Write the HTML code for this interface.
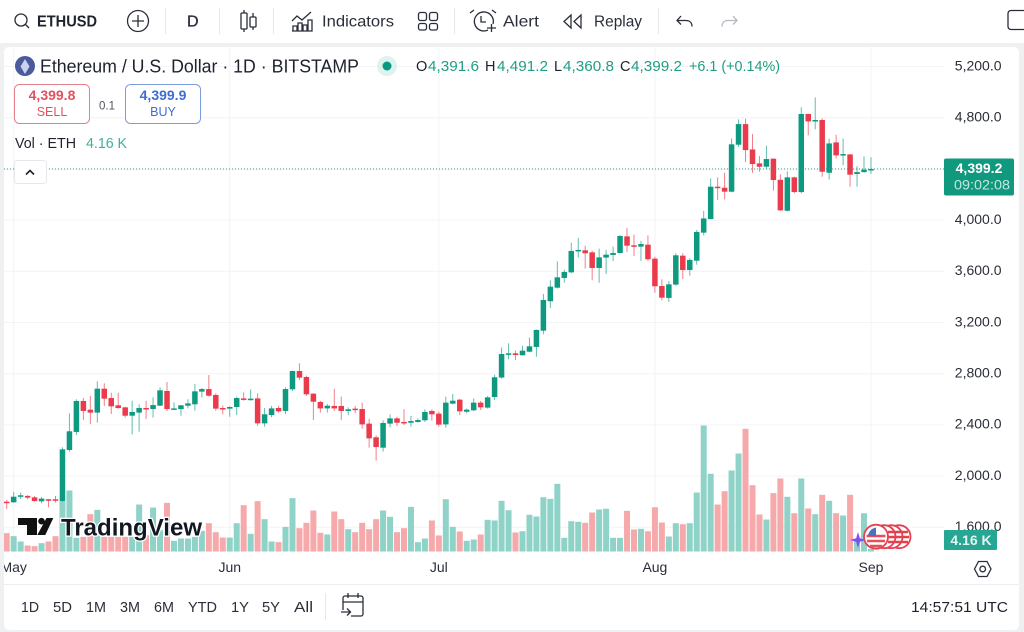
<!DOCTYPE html>
<html lang="en">
<head>
<meta charset="utf-8">
<title>ETHUSD chart</title>
<style>
html,body{margin:0;padding:0;background:#eef0f2;width:1024px;height:632px;overflow:hidden}
svg{display:block}
text{font-family:"Liberation Sans",sans-serif;fill:#1e222d}
.tb{font-size:16px;fill:#2a2e39}
.icon{fill:none;stroke:#2a2e39;stroke-width:1.3}
.g{fill:#1f9e85}
.ax{font-size:14px;fill:#2a2e39}
.rng{font-size:14.5px;fill:#2a2e39}
</style>
</head>
<body>
<svg id="chart" xmlns="http://www.w3.org/2000/svg" width="1024" height="632" viewBox="0 0 1024 632">
  <rect width="1024" height="632" fill="#eef0f2"/>
  <rect width="1024" height="43" fill="#ffffff"/>
  <rect x="4" y="47" width="1015" height="583" rx="5" fill="#ffffff"/>

  <!-- toolbar -->
  <g>
    <circle cx="21" cy="20" r="6" class="icon" stroke-width="1.6"/>
    <line x1="25.5" y1="24.5" x2="29" y2="28" class="icon"/>
    <text x="37" y="26.5" font-size="16" font-weight="bold" textLength="60" lengthAdjust="spacingAndGlyphs">ETHUSD</text>
  </g>
  <g>
    <circle cx="138" cy="21" r="10.5" class="icon"/>
    <path d="M132 21h12M138 15v12" class="icon"/>
  </g>
  <g fill="#e6e7ea">
    <rect x="165" y="8" width="1" height="26"/><rect x="219" y="8" width="1" height="26"/>
    <rect x="273" y="8" width="1" height="26"/><rect x="454" y="8" width="1" height="26"/>
    <rect x="658" y="8" width="1" height="26"/>
  </g>
  <text x="187" y="26.5" class="tb" style="stroke:#2a2e39;stroke-width:0.3px">D</text>
  <g class="icon">
    <path d="M244 10v3M244 29v3M253 13v4M253 27v3"/>
    <rect x="241" y="13" width="6" height="16" rx="1"/><rect x="250" y="17" width="6" height="10" rx="1"/>
  </g>
  <g>
    <path class="icon" d="M292 21l5-5 5 4 9-8M293 31v-5h4v5zM298 31v-8h4v8zM303 31v-6h4v6zM308 31v-11h4v11zM292 31h20"/>
    <text x="322" y="26.5" class="tb" textLength="72" lengthAdjust="spacingAndGlyphs">Indicators</text>
  </g>
  <g class="icon">
    <rect x="418.500" y="12.500" width="8" height="8" rx="2"/><rect x="429.500" y="12.500" width="8" height="8" rx="2"/>
    <rect x="418.500" y="23.500" width="8" height="6.500" rx="2"/><rect x="429.500" y="23.500" width="8" height="6.500" rx="2"/>
  </g>
  <g>
    <path class="icon" d="M488 30a9.500 9.500 0 1 1 5-6M481 16v6h5M470 13l4-3M492 10l4 3M487 28h9M491.500 24v8"/>
    <text x="503" y="26.5" class="tb" textLength="36" lengthAdjust="spacingAndGlyphs">Alert</text>
  </g>
  <g>
    <path class="icon" d="M571 15l-7 6.500 7 6.500zM581 15l-7 6.500 7 6.500z"/>
    <text x="594" y="26.5" class="tb" textLength="48" lengthAdjust="spacingAndGlyphs">Replay</text>
  </g>
  <path class="icon" stroke-width="1.4" d="M681 16l-4 4.500 4 4M677 20.500h9c4 0 6 2.500 6 6"/>
  <path class="icon" style="stroke:#b5b8c0" d="M733 16l4 4.500-4 4M737 20.500h-9c-4 0-6 2.500-6 6"/>
  <rect x="1008" y="10.500" width="30" height="19" rx="3" class="icon"/>

  <!-- dynamic marks -->
  <g id="grid-layer"></g>
  <g id="vol-layer"></g>
  <g id="candle-layer"></g>
  <line x1="4" x2="944" y1="169" y2="169" stroke="#26a08a" stroke-width="1" stroke-dasharray="1 2"/>
  <g id="tick-layer"></g>

  <!-- legend -->
  <g>
    <circle cx="25" cy="66" r="10" fill="#4a5a9a"/>
    <path d="M25 59l4.500 7.500-4.500 7.500-4.500-7.500z" fill="#c9d2f2"/>
  </g>
  <text x="40" y="72.500" font-size="18" fill="#2a2e39" textLength="319" lengthAdjust="spacingAndGlyphs">Ethereum / U.S. Dollar · 1D · BITSTAMP</text>
  <circle cx="387" cy="66" r="10" fill="#dff3ee"/>
  <circle cx="387" cy="66" r="4.500" fill="#089981"/>
  <g font-size="14.500">
    <text x="416" y="71">O</text><text x="428" y="71" class="g" textLength="51" lengthAdjust="spacingAndGlyphs">4,391.6</text>
    <text x="485" y="71">H</text><text x="497" y="71" class="g" textLength="51" lengthAdjust="spacingAndGlyphs">4,491.2</text>
    <text x="554" y="71">L</text><text x="563" y="71" class="g" textLength="51" lengthAdjust="spacingAndGlyphs">4,360.8</text>
    <text x="620" y="71">C</text><text x="631" y="71" class="g" textLength="51" lengthAdjust="spacingAndGlyphs">4,399.2</text>
    <text x="689" y="71" class="g" textLength="91" lengthAdjust="spacingAndGlyphs">+6.1 (+0.14%)</text>
  </g>
  <g>
    <rect x="14.500" y="84.500" width="75" height="39" rx="5" fill="#fff" stroke="#e4808c"/>
    <text x="52" y="100" text-anchor="middle" font-size="14" font-weight="bold" style="fill:#e0525f">4,399.8</text>
    <text x="52" y="116" text-anchor="middle" font-size="12.500" style="fill:#e0525f">SELL</text>
  </g>
  <text x="107" y="109.500" text-anchor="middle" font-size="11.500" style="fill:#50535e">0.1</text>
  <g>
    <rect x="125.500" y="84.500" width="75" height="39" rx="5" fill="#fff" stroke="#7c9bd9"/>
    <text x="163" y="100" text-anchor="middle" font-size="14" font-weight="bold" style="fill:#3f6dd0">4,399.9</text>
    <text x="163" y="116" text-anchor="middle" font-size="12.500" style="fill:#3f6dd0">BUY</text>
  </g>
  <text x="15" y="148" font-size="14.500" fill="#2a2e39" textLength="61" lengthAdjust="spacingAndGlyphs">Vol · ETH</text>
  <text x="86" y="148" font-size="14.500" style="fill:#3fb09c" textLength="41" lengthAdjust="spacingAndGlyphs">4.16 K</text>
  <g>
    <rect x="14.500" y="160.500" width="32" height="23" rx="3" fill="#fff" stroke="#e6e7ea"/>
    <path d="M26 174.500l4-4 4 4" fill="none" stroke="#1e222d" stroke-width="1.600"/>
  </g>

  <!-- logo -->
  <g>
    <path d="M18 518h19v17h-10v-10h-9z" fill="#111"/>
    <circle cx="41.500" cy="521.200" r="3.300" fill="#111"/>
    <path d="M46.500 518h6.800l-8 17h-8z" fill="#111"/>
    <text x="61" y="535.500" font-size="24" font-weight="bold" style="fill:#131722;stroke:#fff;stroke-width:2.500px;paint-order:stroke" textLength="141" lengthAdjust="spacingAndGlyphs">TradingView</text>
  </g>

  <!-- event markers -->
  <g>
    <path d="M858 532l1.800 6.200 6.200 1.800-6.200 1.800-1.800 6.200-1.800-6.200-6.200-1.800 6.200-1.800z" fill="#7b4ff0"/>
    <path d="M869 527a12.500 12.500 0 0 0 0 19" fill="none" stroke="#7b4ff0" stroke-width="1.400"/>
    <g fill="#fff" stroke="#e5404f" stroke-width="1.800">
      <circle cx="899" cy="536.700" r="11.500"/><circle cx="891" cy="536.700" r="11.500"/><circle cx="884" cy="536.700" r="11.500"/>
    </g>
    <g stroke="#e5404f" stroke-width="2.400">
      <path d="M888 532h20M888 537h21M888 542h20"/>
    </g>
    <circle cx="876" cy="536.700" r="12" fill="#fff" stroke="#e5404f" stroke-width="1.800"/>
    <path d="M866.500 536h19M867 541h18M870 546h12" stroke="#e5505c" stroke-width="2.600" fill="none"/>
    <path d="M868 536a9.500 9.500 0 0 1 8-8.500v8.500z" fill="#4a72c4"/>
  </g>

  <!-- price labels -->
  <g>
    <rect x="944" y="158.500" width="70" height="37" rx="2" fill="#10997f"/>
    <text x="979" y="173" text-anchor="middle" font-size="14" font-weight="bold" style="fill:#fff">4,399.2</text>
    <text x="982" y="189.500" text-anchor="middle" font-size="14" style="fill:#c3e7df" textLength="56" lengthAdjust="spacingAndGlyphs">09:02:08</text>
  </g>
  <g>
    <rect x="944" y="530" width="53" height="20" rx="1" fill="#26a693"/>
    <text x="971" y="545" text-anchor="middle" font-size="14" font-weight="bold" style="fill:#e4f5f1">4.16 K</text>
  </g>
  <path d="M974.500 569l4-7.500h8.500l4 7.500-4 7.500h-8.500z" class="icon"/>
  <circle cx="982.700" cy="569" r="2.800" class="icon"/>

  <!-- bottom bar -->
  <rect x="4" y="584" width="1015" height="1" fill="#eceef0"/>
  <g class="rng">
    <text class="rng" x="21" y="612" textLength="18" lengthAdjust="spacingAndGlyphs">1D</text>
    <text class="rng" x="53" y="612" textLength="19" lengthAdjust="spacingAndGlyphs">5D</text>
    <text class="rng" x="86" y="612" textLength="20" lengthAdjust="spacingAndGlyphs">1M</text>
    <text class="rng" x="120" y="612" textLength="20" lengthAdjust="spacingAndGlyphs">3M</text>
    <text class="rng" x="154" y="612" textLength="20" lengthAdjust="spacingAndGlyphs">6M</text>
    <text class="rng" x="188" y="612" textLength="29" lengthAdjust="spacingAndGlyphs">YTD</text>
    <text class="rng" x="231" y="612" textLength="18" lengthAdjust="spacingAndGlyphs">1Y</text>
    <text class="rng" x="262" y="612" textLength="18" lengthAdjust="spacingAndGlyphs">5Y</text>
    <text class="rng" x="294" y="612" textLength="19" lengthAdjust="spacingAndGlyphs">All</text>
  </g>
  <rect x="325" y="593" width="1" height="27" fill="#e6e7ea"/>
  <path class="icon" d="M343 610v-12a2 2 0 0 1 2-2h16a2 2 0 0 1 2 2v16a2 2 0 0 1-2 2h-10M343 602h20M348 593v5M358 593v5M341 612h9M347 608.500l3.500 3.500-3.500 3.500"/>
  <text x="911" y="612" font-size="15" fill="#2a2e39" textLength="97" lengthAdjust="spacingAndGlyphs">14:57:51 UTC</text>
</svg>

<script>
const opens = [1800,1795,1839,1845,1834,1803,1819,1819,1805,2204,
2345,2587,2519,2496,2683,2610,2553,2537,2472,2496,
2532,2524,2550,2665,2524,2524,2550,2561,2660,2680,
2634,2532,2527,2540,2607,2595,2607,2412,2477,2532,
2509,2678,2821,2774,2644,2579,2529,2548,2548,2509,
2527,2524,2410,2303,2222,2410,2451,2423,2417,2423,
2436,2509,2488,2404,2566,2597,2503,2514,2574,2535,
2618,2770,2949,2959,2944,2972,3009,3136,3366,3472,
3548,3592,3761,3764,3748,3626,3707,3728,3743,3873,
3803,3793,3808,3699,3485,3392,3496,3722,3610,3683,
3902,4008,4261,4253,4222,4589,4750,4552,4443,4417,
4480,4315,4073,4334,4219,4829,4776,4782,4370,4607,
4511,4513,4360,4375,4391.6];
const highs = [1813,1876,1871,1852,1845,1837,1821,1845,2225,2490,
2600,2610,2626,2740,2725,2652,2652,2542,2589,2561,
2589,2615,2693,2735,2576,2555,2600,2720,2688,2790,
2647,2553,2545,2621,2654,2678,2647,2532,2548,2548,
2693,2824,2881,2785,2647,2589,2563,2683,2621,2537,
2548,2574,2449,2318,2436,2483,2464,2524,2470,2451,
2522,2522,2503,2621,2641,2605,2529,2607,2587,2626,
2792,3004,3037,2980,3019,3082,3145,3423,3530,3678,
3613,3824,3860,3800,3761,3777,3767,3793,3881,3938,
3886,3837,3881,3715,3537,3524,3741,3741,3702,3923,
4073,4326,4334,4370,4638,4787,4792,4672,4500,4581,
4482,4357,4381,4339,4881,4831,4959,4795,4636,4667,
4636,4516,4422,4498,4491.2];
const lows = [1743,1792,1821,1819,1800,1787,1756,1792,1800,2191,
2321,2438,2407,2417,2548,2485,2527,2457,2326,2347,
2446,2457,2548,2509,2522,2472,2529,2511,2615,2621,
2511,2483,2464,2477,2589,2589,2394,2386,2459,2496,
2485,2665,2751,2626,2438,2496,2496,2509,2438,2477,
2490,2371,2222,2121,2191,2381,2391,2399,2386,2417,
2423,2433,2386,2378,2561,2477,2490,2509,2516,2527,
2595,2761,2913,2907,2941,2967,2933,3108,3314,3465,
3511,3584,3707,3621,3530,3511,3579,3681,3741,3751,
3720,3681,3683,3433,3373,3360,3488,3540,3566,3652,
3881,4006,4157,4162,4217,4571,4454,4370,4378,4404,
4230,4071,4066,4209,4209,4662,4709,4339,4316,4482,
4430,4261,4261,4370,4360.8];
const closes = [1795,1839,1850,1832,1805,1824,1813,1813,2209,2350,
2587,2509,2496,2683,2605,2545,2532,2472,2501,2532,
2527,2555,2670,2524,2529,2553,2568,2662,2680,2628,
2527,2527,2540,2610,2595,2605,2412,2483,2529,2506,
2680,2821,2769,2639,2581,2529,2550,2529,2509,2522,
2519,2404,2295,2227,2415,2451,2417,2415,2430,2438,
2501,2483,2402,2574,2589,2506,2519,2574,2537,2615,
2772,2954,2959,2946,2980,3014,3142,3376,3480,3553,
3595,3759,3767,3741,3626,3709,3730,3743,3876,3800,
3798,3813,3694,3483,3394,3498,3725,3610,3689,3907,
4013,4261,4250,4222,4592,4750,4547,4438,4417,4477,
4313,4076,4334,4219,4829,4771,4782,4378,4599,4506,
4516,4355,4375,4394,4399.2];
const volumes = [30.6,25.6,16.7,10,8.9,13.9,16.7,25.6,83.9,101.7,
22.8,24.4,62.2,69.4,24.4,24.4,24.4,24.4,24.4,78.3,
27.2,73.3,35.6,81.1,17.8,21.7,21.7,24.4,34.4,47.2,
32.2,23.3,23.3,47.2,77.2,29.4,83.9,53.9,16.7,15.6,
41.1,88.9,38.9,47.8,68.3,31.1,28.3,66.7,53.9,37.2,
32.2,47.8,37.2,53.9,68.3,57.8,32.2,38.9,74.4,15.6,
21.7,51.7,26.7,87.2,41.1,33.3,17.8,20,28.3,52.8,
51.7,84.5,68.8,31.7,33.8,61.2,58.3,90.5,87.8,112.8,
22.8,50.5,49.5,47.8,65,70,71.2,22.8,22.8,67.8,
36.7,37.8,33.8,73.8,48.3,25,47.2,45.5,47.2,98.3,
210,129.5,78.3,100.5,135,163.3,204.5,110.5,61.7,53.3,
97.2,121.7,91.2,63.8,121.7,71.7,62.2,94.5,84.5,63.8,
60,94.5,20,63.8,4.16];
const priceTicks = [5200,4800,4400,4000,3600,3200,2800,2400,2000,1600];
const hiddenPriceLabels = [4400];
const monthLabels = ["May","Jun","Jul","Aug","Sep"];
const monthIndexes = [1,32,62,93,124];

const NS = "http://www.w3.org/2000/svg";
function xScale(i){ return 6.7 + 6.97 * i; }
function yScale(v){ return 66.5 + (5200 - v) * 0.128; }
function volTop(k){ return 551.5 - k * 0.6; }
function make(tag, attrs, parent){
  const el = document.createElementNS(NS, tag);
  for (const k in attrs) el.setAttribute(k, attrs[k]);
  parent.appendChild(el);
  return el;
}

const gridLayer = document.getElementById("grid-layer");
const volLayer = document.getElementById("vol-layer");
const candleLayer = document.getElementById("candle-layer");
const tickLayer = document.getElementById("tick-layer");

priceTicks.forEach(function(v){
  const line = make("line", {x1:4, x2:944, y1:yScale(v), y2:yScale(v), stroke:"#f3f4f6", "stroke-width":1}, gridLayer);
  
  
  if (hiddenPriceLabels.indexOf(v) === -1) {
    const t = make("text", {x:1001.5, y:yScale(v) + 3.8, "text-anchor":"end", "class":"ax"}, tickLayer);
    t.textContent = v.toLocaleString("en-US", {minimumFractionDigits:1, maximumFractionDigits:1});
    
    
  }
});

monthLabels.forEach(function(label, n){
  const x = xScale(monthIndexes[n]);
  const line = make("line", {x1:x, x2:x, y1:47, y2:552, stroke:"#f3f4f6", "stroke-width":1}, gridLayer);
  
  
  const t = make("text", {x:x, y:572, "text-anchor":"middle", "class":"ax"}, tickLayer);
  t.textContent = label;
  
  
});

const clip = make("clipPath", {id:"plot-clip"}, gridLayer);
make("rect", {x:4, y:47, width:940, height:506}, clip);
volLayer.setAttribute("clip-path", "url(#plot-clip)");
tickLayer.setAttribute("clip-path", "url(#axes-clip)");
const axClip = make("clipPath", {id:"axes-clip"}, gridLayer);
make("rect", {x:4, y:47, width:1015, height:583}, axClip);

closes.forEach(function(c, i){
  const up = c >= opens[i];
  const x = xScale(i);
  const top = volTop(volumes[i]);
  const bar = make("rect", {x:x - 3, y:top, width:6, height:551.5 - top, fill: up ? "#8fd2c7" : "#f6a9aa"}, volLayer);
  
  

  const color = up ? "#0e9a80" : "#ea3a4c";
  const wick = make("line", {x1:x, x2:x, y1:yScale(highs[i]), y2:yScale(lows[i]), stroke:color, "stroke-width":1, "stroke-opacity":0.65}, candleLayer);
  
  

  const bodyTop = yScale(Math.max(opens[i], c));
  const bodyH = Math.max(1.5, yScale(Math.min(opens[i], c)) - bodyTop);
  const body = make("rect", {x:x - 2.75, y:bodyTop, width:5.5, height:bodyH, fill:color}, candleLayer);
  
  
});
</script>
</body>
</html>
